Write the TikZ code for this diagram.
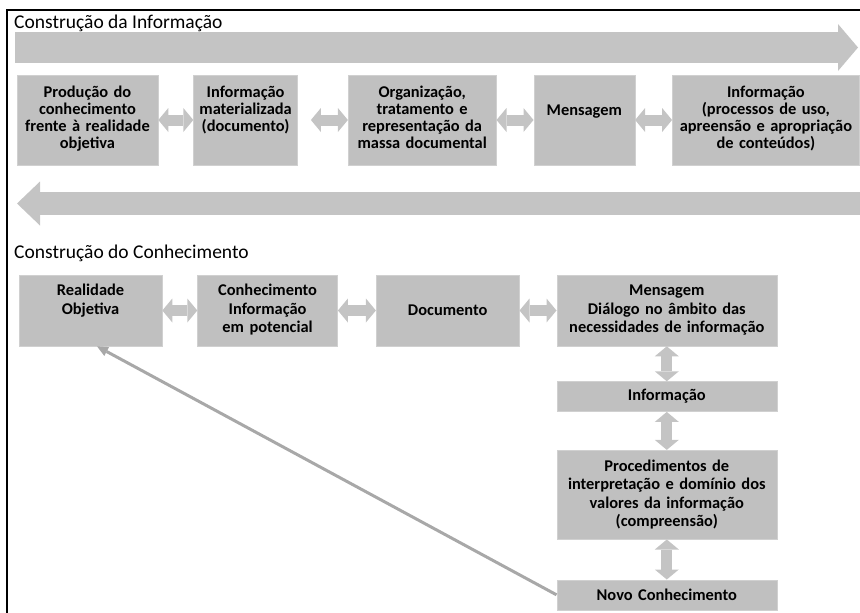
\documentclass[tikz,border=0pt]{standalone}
\usepackage{fontspec}
\setmainfont{Carlito}
\usepackage{tikz}
\usetikzlibrary{arrows.meta, positioning}

\definecolor{boxgray}{RGB}{192,192,192}
\definecolor{boxedge}{RGB}{208,208,208}
\definecolor{arrowgray}{RGB}{196,196,196}
\definecolor{linegray}{RGB}{168,168,168}

\begin{document}
\begin{tikzpicture}[
    x=1pt, y=-1pt,
    node distance=35pt and 35pt,
    caixa/.style={rectangle, fill=boxgray, draw=boxedge, line width=0.6pt, inner sep=0pt, align=center, font=\bfseries\fontsize{16.4}{18.5}\selectfont},
    caixatopo/.style={caixa, font=\bfseries\fontsize{16.4}{17.3}\selectfont, text height=22pt, text depth=68pt},
    titulo/.style={anchor=base west, inner sep=0pt, font=\fontsize{19.5}{23}\selectfont},
    seta/.style={draw=arrowgray, line width=11pt, {Triangle[width=24pt,length=10pt,line width=0pt]}-{Triangle[width=24pt,length=10pt,line width=0pt]}},
    fluxo/.style={draw=arrowgray, line width=31pt, -{Triangle[width=47pt,length=20pt,line width=0pt]}},
    retorno/.style={draw=linegray, line width=3pt, -{Triangle[width=10pt,length=11pt,line width=0pt]}},
    moldura/.style={draw=black, line width=2.5pt}
]
\useasboundingbox (0,0) rectangle (860,613);

% Moldura
\draw[moldura] (7,613) -- (7,10) -- (860,10);

% Construcao da Informacao
\node[titulo] (tinfo) at (14,28) {Construção da Informação};
\coordinate (fi1) at (15,47.5);
\coordinate (fi2) at (858,47.5);
\draw[fluxo] (fi1) -- (fi2);

\node[caixatopo, text width=141pt] (b1) at (87.5,120) {Produção do\\conhecimento\\frente à realidade\\objetiva};
\node[caixatopo, right=of b1, text width=104pt] (b2) {Informação\\materializada\\(documento)};
\node[caixatopo, right=50pt of b2, text width=148pt] (b3) {Organização,\\tratamento e\\representação da\\massa documental};
\node[caixatopo, right=37pt of b3, text width=101pt, text height=40pt, text depth=50pt] (b4) {Mensagem};
\node[caixatopo, right=37pt of b4, text width=187pt] (b5) {Informação\\(processos de uso,\\apreensão e apropriação\\de conteúdos)};

\coordinate (fc1) at (860,203.5);
\coordinate (fc2) at (17,203.5);
\draw[fluxo, line width=23pt, -{Triangle[width=44pt,length=23pt,line width=0pt]}] (fc1) -- (fc2);

% Construcao do Conhecimento
\node[titulo] (tconh) at (14,258) {Construção do Conhecimento};

\node[caixa, text width=143pt, text height=20.5pt, text depth=50.5pt] (r1) at (90.5,310.5) {Realidade\\Objetiva};
\node[caixa, right=of r1, text width=140pt, text height=20.5pt, text depth=50.5pt] (r2) {Conhecimento\\Informação\\em potencial};
\node[caixa, right=38pt of r2, text width=143pt, minimum height=71pt] (r3) {Documento};
\node[caixa, right=37pt of r3, text width=220pt, text height=20.5pt, text depth=50.5pt] (r4) {Mensagem\\Diálogo no âmbito das\\necessidades de informação};

% Coluna
\node[caixa, below=of r4, text width=220pt, minimum height=30pt] (inf) {Informação};
\node[caixa, below=38pt of inf, text width=220pt, minimum height=89pt] (proc) {Procedimentos de\\interpretação e domínio dos\\valores da informação\\(compreensão)};
\node[caixa, below=40pt of proc, text width=220pt, minimum height=30pt] (nc) {Novo Conhecimento};

% Draw lines
\draw[seta] (b1) -- (b2);
\draw[seta, shorten <=13pt] (b2) -- (b3);
\draw[seta] (b3) -- (b4);
\draw[seta] (b4) -- (b5);
\draw[seta] (r1) -- (r2);
\draw[seta] (r2) -- (r3);
\draw[seta] (r3) -- (r4);
\draw[seta] (r4) -- (inf);
\draw[seta] (inf) -- (proc);
\draw[seta] (proc) -- (nc);
\draw[retorno] (nc.west) -- ([xshift=6.5pt]r1.south);
\end{tikzpicture}
\end{document}
